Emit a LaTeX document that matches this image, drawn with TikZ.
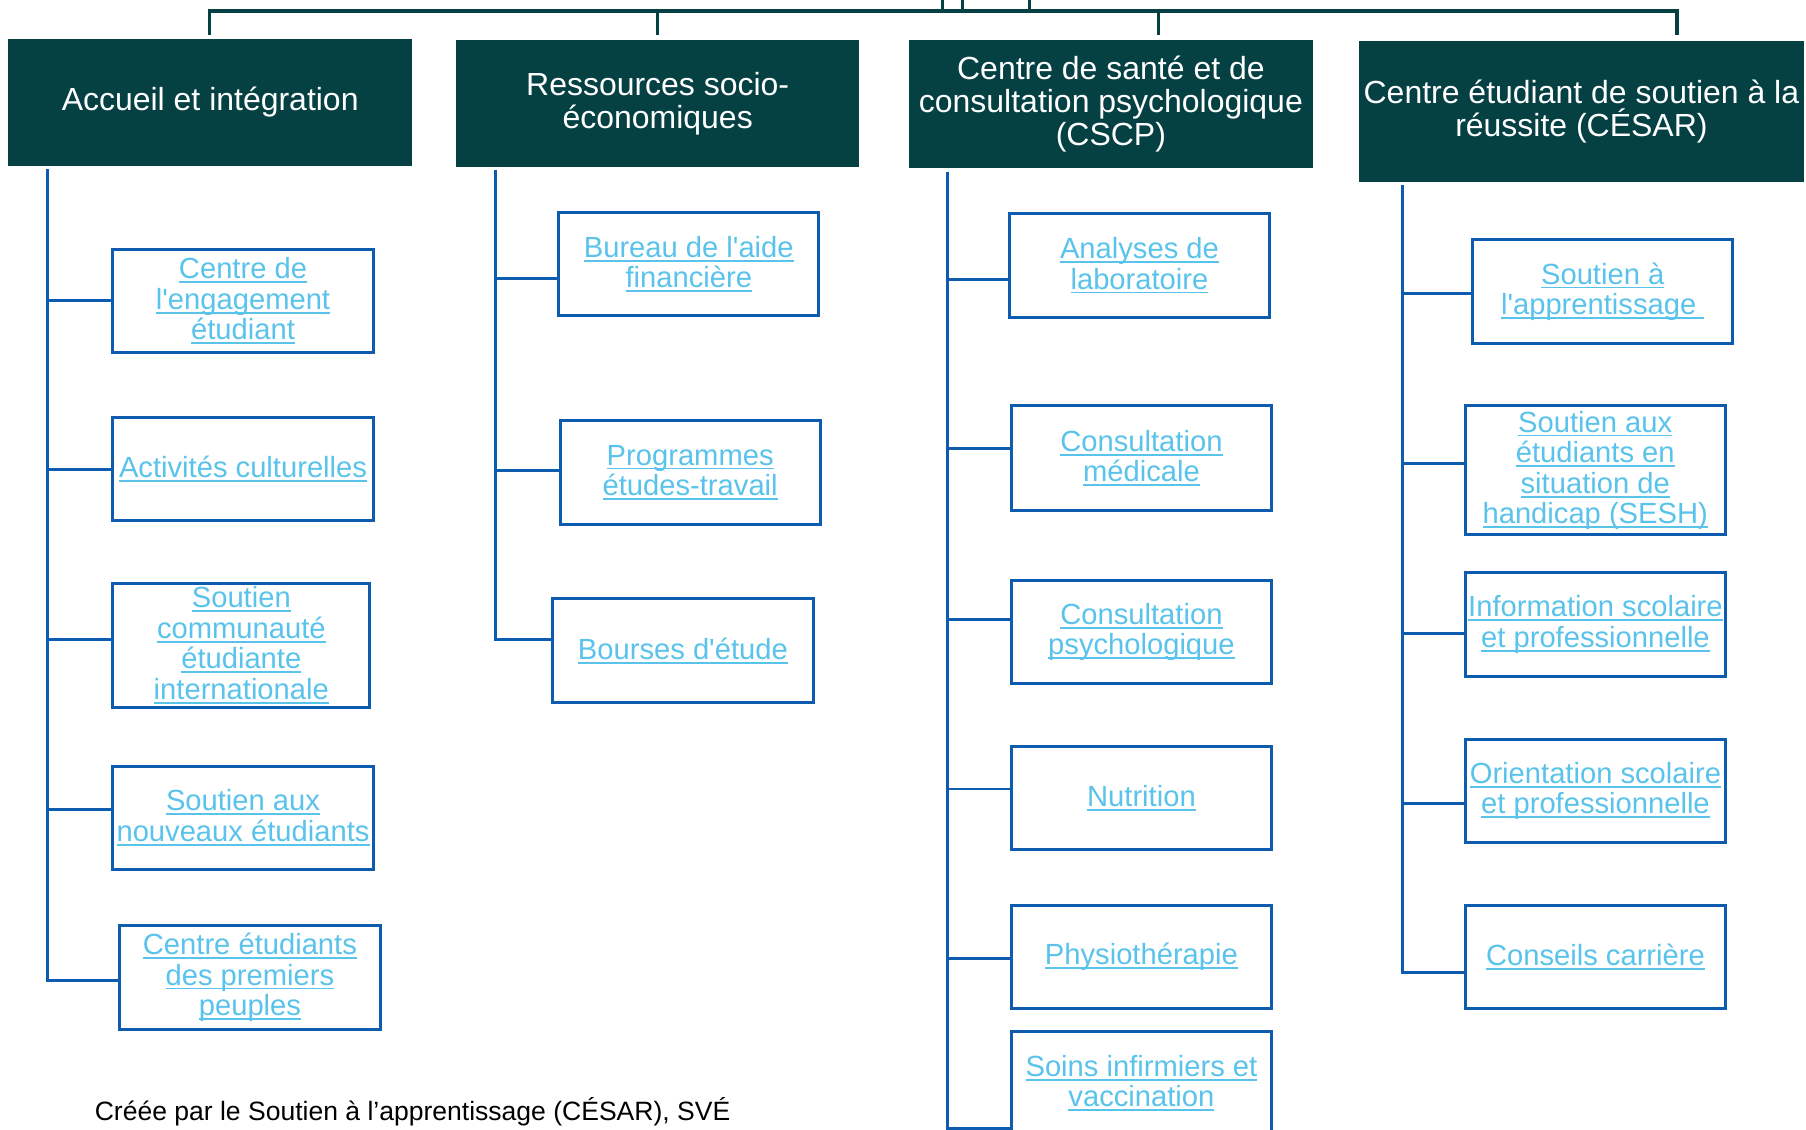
\documentclass[tikz,border=0pt]{standalone}
\usepackage{fontspec}
\setmainfont{Liberation Sans}[Ligatures=TeXOff]
\usetikzlibrary{calc}
\definecolor{headteal}{RGB}{5,64,67}
\definecolor{lineblue}{RGB}{14,92,176}
\definecolor{linkblue}{RGB}{90,195,235}
\def\px{0.02304cm}
\def\lnk#1{\leavevmode\setbox0\hbox{#1}\rlap{\rule[-0.15em]{\wd0}{0.065em}}\box0}

\begin{document}
\begin{tikzpicture}[x=\px, y=-\px,
		headbox/.style={fill=headteal, text=white, align=center, inner sep=0pt, font=\fontsize{18.2}{18.7}\selectfont},
		unitbox/.style={draw=lineblue, line width=1.7pt, fill=white, minimum width=226*\px, minimum height=90*\px, inner sep=0pt, align=center, text=linkblue, font=\fontsize{16.6}{17.4}\selectfont},
		trunk/.style={draw=headteal, line width=1.8pt},
		branch/.style={draw=lineblue, line width=1.7pt}]
			%%%%% START %%%%%
			
			\useasboundingbox (0,0) rectangle (1568,981);
			\clip (0,0) rectangle (1568,981);
			
			% top bar
			\coordinate (bar) at (0,9.5);
			\coordinate (r1) at (818.6,-5);
			\coordinate (r2) at (836,-5);
			\coordinate (r3) at (894,-5);
			\coordinate (t1) at (182,30.4);
			\coordinate (t2) at (571,30.4);
			\coordinate (t3) at (1006,30.4);
			\coordinate (t4) at (1456,30.4);
			\draw[trunk] (r1) -- (r1 |- bar);
			\draw[trunk] (r2) -- (r2 |- bar);
			\draw[trunk] (r3) -- (r3 |- bar);
			\draw[trunk] (t1) -- (t1 |- bar) -- (t4 |- bar) -- (t4);
			\draw[trunk] (t2) -- (t2 |- bar);
			\draw[trunk] (t3) -- (t3 |- bar);
			
			% headers
			\node[headbox, minimum width=351*\px, minimum height=110*\px] (h1) at (182.5,89) {Accueil et intégration};
			\node[headbox, minimum width=350*\px, minimum height=110*\px] (h2) at (571,90) {Ressources socio-\\économiques};
			\node[headbox, minimum width=351*\px, minimum height=111*\px] (h3) at (964.5,90.5) {Centre de santé et de\\consultation psychologique\\(CSCP)};
			\node[headbox, minimum width=386*\px, minimum height=123*\px] (h4) at (1373,96.7) {Centre étudiant de soutien à la\\réussite (CÉSAR)};
			
			\coordinate (a0) at (41,147);
			\coordinate (b0) at (430,148);
			\coordinate (c0) at (823,149);
			\coordinate (d0) at (1218,160.7);
			
			% Accueil et integration
			\node[unitbox] (a1) at (211,261.3) {\lnk{Centre de}\\\lnk{l'engagement}\\\lnk{étudiant}};
			\node[unitbox] (a2) at (211,407.3) {\lnk{Activités culturelles}};
			\node[unitbox, minimum width=223.4*\px, minimum height=107.6*\px] (a3) at (209.5,560.2) {\lnk{Soutien}\\\lnk{communauté}\\\lnk{étudiante}\\\lnk{internationale}};
			\node[unitbox] (a4) at (211,710.1) {\lnk{Soutien aux}\\\lnk{nouveaux étudiants}};
			\node[unitbox] (a5) at (217,848.5) {\lnk{Centre étudiants}\\\lnk{des premiers}\\\lnk{peuples}};
			
			\draw[branch] (a0) |- (a1.west);
			\draw[branch] (a0) |- (a2.west);
			\draw[branch] (a0) |- ([yshift=4.6*\px]a3.west);
			\draw[branch] (a0) |- ([yshift=7*\px]a4.west);
			\draw[branch] (a0) |- ([yshift=-2.5*\px]a5.west);
			
			% Ressources socio-economiques
			\node[unitbox] (b1) at (598,229.3) {\lnk{Bureau de l'aide}\\\lnk{financière}};
			\node[unitbox] (b2) at (599.2,410.2) {\lnk{Programmes}\\\lnk{études-travail}};
			\node[unitbox] (b3) at (592.9,565) {\lnk{Bourses d'étude}};
			
			\draw[branch] (b0) |- ([yshift=-12.9*\px]b1.west);
			\draw[branch] (b0) |- ([yshift=1.6*\px]b2.west);
			\draw[branch] (b0) |- ([yshift=9.4*\px]b3.west);
			
			% CSCP
			\node[unitbox] (c1) at (989.3,230.4) {\lnk{Analyses de}\\\lnk{laboratoire}};
			\node[unitbox, minimum height=91*\px] (c2) at (991,397.9) {\lnk{Consultation}\\\lnk{médicale}};
			\node[unitbox] (c3) at (991,548.8) {\lnk{Consultation}\\\lnk{psychologique}};
			\node[unitbox] (c4) at (991,692.7) {\lnk{Nutrition}};
			\node[unitbox] (c5) at (991,830.8) {\lnk{Physiothérapie}};
			\node[unitbox] (c6) at (991,940.5) {\lnk{Soins infirmiers et}\\\lnk{vaccination}};
			
			\draw[branch] (c0) |- ([yshift=-12.1*\px]c1.west);
			\draw[branch] (c0) |- ([yshift=8.1*\px]c2.west);
			\draw[branch] (c0) |- ([yshift=11.2*\px]c3.west);
			\draw[branch] (c0) |- ([yshift=7.7*\px]c4.west);
			\draw[branch] (c0) |- ([yshift=-1.7*\px]c5.west);
			\draw[branch] (c0) |- ([yshift=-39.3*\px]c6.west);
			
			% CESAR
			\node[unitbox] (d1) at (1391.5,253.2) {\lnk{Soutien à}\\\lnk{l'apprentissage\ }};
			\node[unitbox, minimum height=112*\px] (d2) at (1385,408.4) {\lnk{Soutien aux}\\\lnk{étudiants en}\\\lnk{situation de}\\\lnk{handicap (SESH)}};
			\node[unitbox] (d3) at (1385.2,542.3) {\lnk{Information scolaire}\\\lnk{et professionnelle}};
			\node[unitbox] (d4) at (1385.2,686.8) {\lnk{Orientation scolaire}\\\lnk{et professionnelle}};
			\node[unitbox] (d5) at (1385.2,830.8) {\lnk{Conseils carrière}};
			
			\draw[branch] (d0) |- ([yshift=-2*\px]d1.west);
			\draw[branch] (d0) |- ([yshift=6.2*\px]d2.west);
			\draw[branch] (d0) |- ([yshift=-7.5*\px]d3.west);
			\draw[branch] (d0) |- ([yshift=-10.5*\px]d4.west);
			\draw[branch] (d0) |- ([yshift=-13.7*\px]d5.west);
			
			\node[anchor=base west, inner sep=0pt, font=\fontsize{15.1}{18}\selectfont] (credit) at (82,972.5) {Créée par le Soutien à l’apprentissage (CÉSAR), SVÉ};
			
			%%%%% END %%%%%
\end{tikzpicture}
\end{document}
